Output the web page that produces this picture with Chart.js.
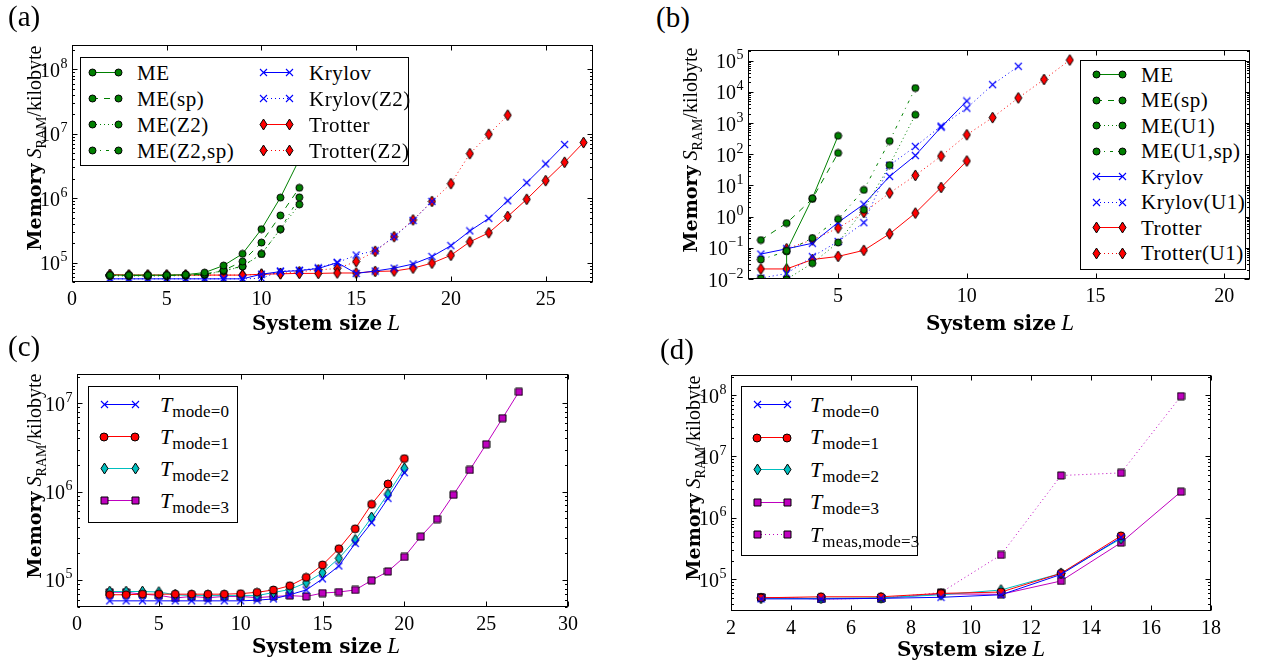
<!DOCTYPE html>
<html>
<head>
<meta charset="utf-8">
<title>Memory usage versus system size</title>
<script src="https://cdn.jsdelivr.net/npm/chart.js@4.4.1/dist/chart.umd.min.js"></script>
<style>
  html, body { margin: 0; padding: 0; background: #fff; }
  body { width: 1278px; height: 666px; position: relative; overflow: hidden;
         font-family: "Liberation Serif", "DejaVu Serif", serif; color: #000; }
  canvas.plot { position: absolute; z-index: 1; }
  .tag { position: absolute; font-size: 29px; line-height: 1; z-index: 3; }
  .ytitle { position: absolute; white-space: nowrap; font-size: 20px; line-height: 1; z-index: 3;
            transform: translate(-50%, -50%) rotate(-90deg); }
  .xtitle { position: absolute; white-space: nowrap; font-size: 20px; line-height: 1; z-index: 3;
            transform: translate(-50%, -50%); }
  .ytitle b { font-family: "DejaVu Serif", serif; font-weight: bold; font-size: 19px; }
  .xtitle b { font-family: "DejaVu Serif", serif; font-weight: bold; font-size: 20px; }
  .xtitle i { font-size: 23px; }
  sub { font-size: 0.7em; vertical-align: -0.35em; line-height: 0; }
  .legend { position: absolute; background: #fff; border: 1px solid #000; box-sizing: border-box; z-index: 2; }
  .legend canvas { position: absolute; }
  .legend .lt { position: absolute; white-space: nowrap; font-size: 21px; line-height: 1;
                transform: translateY(-50%); letter-spacing: 0.5px; }
  .legend .lt i { font-size: 22px; letter-spacing: 0; }
  .legend .lt sub { font-size: 17px; vertical-align: -0.3em; letter-spacing: 0.2px; }
</style>
</head>
<body>

<div class="tag" style="left:8px;top:2px">(a)</div>
<div class="tag" style="left:656px;top:3px">(b)</div>
<div class="tag" style="left:8px;top:332px">(c)</div>
<div class="tag" style="left:660px;top:335px">(d)</div>

<div class="ytitle" style="left:34px;top:148px"><b>Memory</b> <i>S</i><sub>RAM</sub>/kilobyte</div>
<div class="ytitle" style="left:690px;top:150px"><b>Memory</b> <i>S</i><sub>RAM</sub>/kilobyte</div>
<div class="ytitle" style="left:34px;top:476px"><b>Memory</b> <i>S</i><sub>RAM</sub>/kilobyte</div>
<div class="ytitle" style="left:693px;top:478px"><b>Memory</b> <i>S</i><sub>RAM</sub>/kilobyte</div>

<div class="xtitle" style="left:326px;top:322px"><b>System size</b> <i>L</i></div>
<div class="xtitle" style="left:1000px;top:322px"><b>System size</b> <i>L</i></div>
<div class="xtitle" style="left:326px;top:645px"><b>System size</b> <i>L</i></div>
<div class="xtitle" style="left:971px;top:648px"><b>System size</b> <i>L</i></div>

<script>
// ---------------- data: panel (a) ----------------
const xTicksA = [0, 5, 10, 15, 20, 25];
const yTicksA = [1e5, 1e6, 1e7, 1e8];
const sizeA_ME     = [2, 3, 4, 5, 6, 7, 8, 9, 10, 11, 12];
const memA_ME      = [6.4e4, 6.4e4, 6.4e4, 6.4e4, 6.5e4, 7.0e4, 9.0e4, 1.37e5, 3.3e5, 1.02e6, 4.0e6];
const memA_MEsp    = [6.3e4, 6.3e4, 6.3e4, 6.3e4, 6.4e4, 6.6e4, 7.6e4, 1.04e5, 2.05e5, 5.4e5, 1.45e6];
const memA_MEZ2    = [6.2e4, 6.2e4, 6.2e4, 6.2e4, 6.3e4, 6.5e4, 7.4e4, 8.7e4, 1.36e5, 3.3e5, 8.0e5];
const memA_MEZ2sp  = [6.3e4, 6.3e4, 6.3e4, 6.3e4, 6.4e4, 6.6e4, 7.5e4, 8.8e4, 1.36e5, 3.3e5, 1.03e6];
const sizeA_Kry    = [2, 3, 4, 5, 6, 7, 8, 9, 10, 11, 12, 13, 14, 15, 16, 17, 18, 19, 20, 21, 22, 23, 24, 25, 26];
const memA_Kry     = [5.6e4, 5.6e4, 5.6e4, 5.6e4, 5.6e4, 5.6e4, 5.6e4, 5.6e4, 6.6e4, 7.25e4, 7.5e4, 8.1e4, 1.0e5,
                      6.8e4, 7.4e4, 8.2e4, 9.5e4, 1.24e5, 1.83e5, 3.1e5, 4.85e5, 9.1e5, 1.74e6, 3.4e6, 6.8e6];
const sizeA_KryZ2  = [2, 3, 4, 5, 6, 7, 8, 9, 10, 11, 12, 13, 14, 15, 16, 17, 18, 19];
const memA_KryZ2   = [5.6e4, 5.6e4, 5.6e4, 5.6e4, 5.6e4, 5.6e4, 5.6e4, 5.6e4, 5.7e4, 7.4e4, 7.6e4, 8.3e4, 1.0e5,
                      1.31e5, 1.53e5, 2.52e5, 4.5e5, 8.9e5];
const sizeA_Tro    = [2, 3, 4, 5, 6, 7, 8, 9, 10, 11, 12, 13, 14, 15, 16, 17, 18, 19, 20, 21, 22, 23, 24, 25, 26, 27];
const memA_Tro     = [6.5e4, 6.4e4, 6.4e4, 6.4e4, 6.4e4, 6.4e4, 6.4e4, 6.4e4, 6.6e4, 6.7e4, 6.8e4, 6.8e4, 6.9e4,
                      6.9e4, 7.3e4, 7.4e4, 8.2e4, 9.8e4, 1.3e5, 2.1e5, 2.9e5, 5.2e5, 9.6e5, 1.87e6, 3.6e6, 7.3e6];
const sizeA_TroZ2  = [2, 3, 4, 5, 6, 7, 8, 9, 10, 11, 12, 13, 14, 15, 16, 17, 18, 19, 20, 21, 22, 23];
const memA_TroZ2   = [6.5e4, 6.4e4, 6.4e4, 6.4e4, 6.4e4, 6.4e4, 6.4e4, 6.4e4, 6.6e4, 6.8e4, 7.2e4, 7.7e4, 8.1e4,
                      1.04e5, 1.5e5, 2.52e5, 4.6e5, 8.9e5, 1.68e6, 4.9e6, 9.8e6, 1.94e7];

// ---------------- data: panel (b) ----------------
const xTicksB = [5, 10, 15, 20];
const yTicksB = [1e-2, 1e-1, 1e0, 1e1, 1e2, 1e3, 1e4, 1e5];
const sizeB_ME     = [3, 3, 4, 5];
const memB_ME      = [0.0098, 0.08, 3.9, 390];
const sizeB_MEsp   = [2, 3, 4, 5];
const memB_MEsp    = [0.178, 0.62, 3.7, 110];
const sizeB_MEU1   = [2, 3, 4, 5, 6, 7, 8];
const memB_MEU1    = [0.0105, 0.0098, 0.032, 0.148, 1.66, 45, 1850];
const memB_MEU1sp  = [0.042, 0.077, 0.206, 0.84, 7.2, 265, 1.33e4];
const sizeB_Kry    = [2, 3, 4, 5, 6, 7, 8, 9, 10];
const memB_Kry     = [0.063, 0.093, 0.14, 0.65, 2.5, 19.5, 91, 740, 5100];
const sizeB_KryU1  = [2, 3, 4, 5, 6, 7, 8, 9, 10, 11, 12];
const memB_KryU1   = [0.0107, 0.015, 0.052, 0.16, 0.64, 44, 178, 800, 3000, 1.7e4, 6.6e4];
const sizeB_Tro    = [2, 3, 4, 5, 6, 7, 8, 9, 10];
const memB_Tro     = [0.021, 0.021, 0.042, 0.053, 0.083, 0.28, 1.3, 8.6, 61];
const sizeB_TroU1  = [3, 4, 5, 6, 7, 8, 9, 10, 11, 12, 13, 14];
const memB_TroU1   = [0.093, 0.18, 0.43, 1.36, 5.7, 21, 87, 420, 1500, 6400, 2.5e4, 1.05e5];

// ---------------- data: panel (c) ----------------
const xTicksC = [0, 5, 10, 15, 20, 25, 30];
const yTicksC = [1e5, 1e6, 1e7];
const sizeC_012 = [2, 3, 4, 5, 6, 7, 8, 9, 10, 11, 12, 13, 14, 15, 16, 17, 18, 19, 20];
const memC_T0 = [5.8e4, 5.8e4, 5.8e4, 5.8e4, 5.8e4, 5.8e4, 5.8e4, 5.8e4, 5.8e4, 5.9e4, 6.1e4, 6.8e4, 7.7e4,
                 1.03e5, 1.44e5, 2.6e5, 4.46e5, 8.4e5, 1.64e6];
const memC_T1 = [6.8e4, 6.8e4, 6.9e4, 6.9e4, 6.9e4, 6.9e4, 6.9e4, 6.9e4, 7.0e4, 7.25e4, 7.7e4, 8.6e4, 1.07e5,
                 1.48e5, 2.26e5, 3.8e5, 7.2e5, 1.22e6, 2.37e6];
const memC_T2 = [7.4e4, 7.4e4, 7.4e4, 7.3e4, 6.8e4, 6.65e4, 6.65e4, 6.65e4, 6.65e4, 6.65e4, 7.2e4, 7.8e4, 9.3e4,
                 1.21e5, 1.76e5, 2.84e5, 5.1e5, 9.4e5, 1.84e6];
const sizeC_3 = [2, 3, 4, 5, 6, 7, 8, 9, 10, 11, 12, 13, 14, 15, 16, 17, 18, 19, 20, 21, 22, 23, 24, 25, 26, 27];
const memC_T3 = [7.25e4, 7.25e4, 6.9e4, 6.7e4, 6.25e4, 6.5e4, 6.3e4, 6.5e4, 6.5e4, 6.3e4, 6.5e4, 6.65e4, 6.5e4,
                 7.1e4, 7.3e4, 7.7e4, 9.9e4, 1.25e5, 1.82e5, 3.1e5, 4.9e5, 9.2e5, 1.76e6, 3.44e6, 6.8e6, 1.35e7];

// ---------------- data: panel (d) ----------------
const xTicksD = [2, 4, 6, 8, 10, 12, 14, 16, 18];
const yTicksD = [1e5, 1e6, 1e7, 1e8];
const sizeD_012 = [3, 5, 7, 9, 11, 13, 15];
const memD_T0 = [4.8e4, 4.8e4, 4.9e4, 5.1e4, 5.6e4, 1.2e5, 4.8e5];
const memD_T1 = [5.0e4, 5.2e4, 5.2e4, 5.9e4, 6.2e4, 1.25e5, 5.1e5];
const memD_T2 = [4.9e4, 4.9e4, 5.0e4, 5.6e4, 6.7e4, 1.25e5, 4.6e5];
const sizeD_3 = [3, 5, 7, 9, 11, 13, 15, 17];
const memD_T3    = [5.1e4, 4.8e4, 4.9e4, 5.8e4, 5.7e4, 9.4e4, 3.95e5, 2.67e6];
const memD_Tmeas = [5.1e4, 4.8e4, 4.9e4, 6.1e4, 2.5e5, 4.9e6, 5.4e6, 9.6e7];

// ---------------- styles ----------------
const COL = { g: '#008000', b: '#0000ff', r: '#ff0000', c: '#00bfbf', m: '#bf00bf' };
const DASH = { solid: [], dashed: [6, 6], dotted: [1, 3], dashdot: [3, 5, 1, 5] };

// small marker sprites (black edge, coloured face)
function marker(kind, color, w, h) {
  h = h || w;
  const c = document.createElement('canvas');
  c.width = w + 2; c.height = h + 2;
  const g = c.getContext('2d');
  g.translate(c.width / 2, c.height / 2);
  g.lineWidth = 1;
  g.strokeStyle = '#000';
  g.fillStyle = color;
  g.beginPath();
  if (kind === 'circle') {
    g.arc(0, 0, w / 2, 0, Math.PI * 2);
  } else if (kind === 'diamond') {
    g.moveTo(0, -h / 2); g.lineTo(w / 2, 0); g.lineTo(0, h / 2); g.lineTo(-w / 2, 0); g.closePath();
  } else if (kind === 'square') {
    g.rect(-w / 2, -h / 2, w, h);
  } else if (kind === 'x') {
    g.strokeStyle = color;
    g.lineWidth = 1.1;
    g.moveTo(-w / 2, -h / 2); g.lineTo(w / 2, h / 2);
    g.moveTo(w / 2, -h / 2); g.lineTo(-w / 2, h / 2);
    g.stroke();
    return c;
  }
  g.fill();
  g.stroke();
  return c;
}

const MK = {
  gCircle: marker('circle', COL.g, 7),
  bX: marker('x', COL.b, 7),
  rDiamond: marker('diamond', COL.r, 7, 11),
  rCircle: marker('circle', COL.r, 8),
  cDiamond: marker('diamond', COL.c, 7, 11),
  mSquare: marker('square', COL.m, 7)
};

function series(label, xs, ys, color, dash, mk) {
  return { label, xs, ys, color, dash, mk };
}

const seriesA = [
  series('ME', sizeA_ME, memA_ME, COL.g, 'solid', MK.gCircle),
  series('ME(sp)', sizeA_ME, memA_MEsp, COL.g, 'dashed', MK.gCircle),
  series('ME(Z2)', sizeA_ME, memA_MEZ2, COL.g, 'dotted', MK.gCircle),
  series('ME(Z2,sp)', sizeA_ME, memA_MEZ2sp, COL.g, 'dashdot', MK.gCircle),
  series('Krylov', sizeA_Kry, memA_Kry, COL.b, 'solid', MK.bX),
  series('Krylov(Z2)', sizeA_KryZ2, memA_KryZ2, COL.b, 'dotted', MK.bX),
  series('Trotter', sizeA_Tro, memA_Tro, COL.r, 'solid', MK.rDiamond),
  series('Trotter(Z2)', sizeA_TroZ2, memA_TroZ2, COL.r, 'dotted', MK.rDiamond)
];
const seriesB = [
  series('ME', sizeB_ME, memB_ME, COL.g, 'solid', MK.gCircle),
  series('ME(sp)', sizeB_MEsp, memB_MEsp, COL.g, 'dashed', MK.gCircle),
  series('ME(U1)', sizeB_MEU1, memB_MEU1, COL.g, 'dotted', MK.gCircle),
  series('ME(U1,sp)', sizeB_MEU1, memB_MEU1sp, COL.g, 'dashdot', MK.gCircle),
  series('Krylov', sizeB_Kry, memB_Kry, COL.b, 'solid', MK.bX),
  series('Krylov(U1)', sizeB_KryU1, memB_KryU1, COL.b, 'dotted', MK.bX),
  series('Trotter', sizeB_Tro, memB_Tro, COL.r, 'solid', MK.rDiamond),
  series('Trotter(U1)', sizeB_TroU1, memB_TroU1, COL.r, 'dotted', MK.rDiamond)
];
const seriesC = [
  series('<i>T</i><sub>mode=0</sub>', sizeC_012, memC_T0, COL.b, 'solid', MK.bX),
  series('<i>T</i><sub>mode=1</sub>', sizeC_012, memC_T1, COL.r, 'solid', MK.rCircle),
  series('<i>T</i><sub>mode=2</sub>', sizeC_012, memC_T2, COL.c, 'solid', MK.cDiamond),
  series('<i>T</i><sub>mode=3</sub>', sizeC_3, memC_T3, COL.m, 'solid', MK.mSquare)
];
const seriesD = [
  series('<i>T</i><sub>mode=0</sub>', sizeD_012, memD_T0, COL.b, 'solid', MK.bX),
  series('<i>T</i><sub>mode=1</sub>', sizeD_012, memD_T1, COL.r, 'solid', MK.rCircle),
  series('<i>T</i><sub>mode=2</sub>', sizeD_012, memD_T2, COL.c, 'solid', MK.cDiamond),
  series('<i>T</i><sub>mode=3</sub>', sizeD_3, memD_T3, COL.m, 'solid', MK.mSquare),
  series('<i>T</i><sub>meas,mode=3</sub>', sizeD_3, memD_Tmeas, COL.m, 'dotted', MK.mSquare)
];

// ---------------- axes frame, inward ticks, power-of-ten labels ----------------
const frameTicks = {
  id: 'frameTicks',
  afterDatasetsDraw(chart, args, opts) {
    const { ctx, chartArea: a, scales: { x, y } } = chart;
    const L = Math.round(a.left) + 0.5, R = Math.round(a.right) - 0.5;
    const T = Math.round(a.top) + 0.5, B = Math.round(a.bottom) - 0.5;
    ctx.save();
    ctx.strokeStyle = '#000';
    ctx.lineWidth = 1;
    ctx.setLineDash([]);
    ctx.beginPath();
    for (const v of opts.xTicks) {
      const p = Math.round(x.getPixelForValue(v)) + 0.5;
      if (p < L - 1 || p > R + 1) continue;
      ctx.moveTo(p, B); ctx.lineTo(p, B - 5);
      ctx.moveTo(p, T); ctx.lineTo(p, T + 5);
    }
    const lo = Math.floor(Math.log10(y.min)), hi = Math.ceil(Math.log10(y.max));
    for (let e = lo; e <= hi; e++) {
      for (let k = 1; k < 10; k++) {
        const v = k * Math.pow(10, e);
        if (v < y.min * 0.999 || v > y.max) continue;
        const len = k === 1 ? 5 : 2.5;
        const p = Math.round(y.getPixelForValue(v)) + 0.5;
        ctx.moveTo(L, p); ctx.lineTo(L + len, p);
        ctx.moveTo(R, p); ctx.lineTo(R - len, p);
      }
    }
    ctx.stroke();
    ctx.strokeRect(L, T, R - L, B - T);

    // y tick labels: "10" with a raised exponent
    ctx.fillStyle = '#000';
    for (const v of opts.yTicks) {
      const p = y.getPixelForValue(v);
      const e = String(Math.round(Math.log10(v))).replace('-', '\u2212');
      ctx.font = '20px "Liberation Serif"';
      const wBase = ctx.measureText('10').width;
      ctx.font = '14px "Liberation Serif"';
      const wExp = ctx.measureText(e).width;
      const x0 = a.left - 5 - wBase - wExp;
      ctx.textBaseline = 'alphabetic';
      ctx.textAlign = 'left';
      ctx.font = '20px "Liberation Serif"';
      ctx.fillText('10', x0, p + 7.5);
      ctx.font = '14px "Liberation Serif"';
      ctx.fillText(e, x0 + wBase + 0.5, p - 1.5);
    }
    ctx.restore();
  }
};

const TICK_FONT = { family: 'Liberation Serif', size: 20 };

function makePanel(rect, xRange, yRange, xTicks, yTicks, list) {
  const ML = 72, MT = 16, MR = 22, MB = 42;
  const cv = document.createElement('canvas');
  cv.className = 'plot';
  const W = rect.r - rect.l + ML + MR, H = rect.b - rect.t + MT + MB;
  cv.width = W; cv.height = H;
  cv.style.left = (rect.l - ML) + 'px';
  cv.style.top = (rect.t - MT) + 'px';
  document.body.appendChild(cv);
  new Chart(cv, {
    type: 'line',
    data: {
      datasets: list.map(s => ({
        label: s.label,
        data: s.xs.map((v, i) => ({ x: v, y: s.ys[i] })),
        borderColor: s.color,
        backgroundColor: s.color,
        borderWidth: 1,
        borderDash: DASH[s.dash],
        pointStyle: s.mk,
        pointRadius: 4,
        pointHoverRadius: 4,
        fill: false,
        tension: 0,
        clip: 0
      }))
    },
    options: {
      responsive: false,
      animation: false,
      devicePixelRatio: 1,
      events: [],
      layout: { padding: { left: 0, top: MT, right: MR, bottom: 0 } },
      plugins: { legend: { display: false }, tooltip: { enabled: false }, frameTicks: { xTicks, yTicks } },
      scales: {
        x: {
          type: 'linear', min: xRange[0], max: xRange[1],
          afterBuildTicks: s => { s.ticks = xTicks.map(v => ({ value: v })); },
          afterFit: s => { s.height = MB; },
          grid: { display: false, drawTicks: false, tickLength: 0 },
          border: { display: false },
          ticks: { color: '#000', font: TICK_FONT, padding: 6, maxRotation: 0, autoSkip: false,
                   callback: v => String(v) }
        },
        y: {
          type: 'logarithmic', min: yRange[0], max: yRange[1],
          afterBuildTicks: s => { s.ticks = yTicks.map(v => ({ value: v, major: true })); },
          afterFit: s => { s.width = ML; },
          grid: { display: false, drawTicks: false, tickLength: 0 },
          border: { display: false },
          ticks: { display: false }
        }
      }
    },
    plugins: [frameTicks]
  });
}

// legend box: line sample with a marker at each end, then the label
function makeLegend(box, entries) {
  const el = document.createElement('div');
  el.className = 'legend';
  el.style.left = box[0] + 'px';
  el.style.top = box[1] + 'px';
  el.style.width = (box[2] - box[0]) + 'px';
  el.style.height = (box[3] - box[1]) + 'px';
  document.body.appendChild(el);
  const ox = box[0] + 1, oy = box[1] + 1;
  for (const e of entries) {
    const s = e.s;
    const len = e.m2 - e.m1;
    const c = document.createElement('canvas');
    c.width = len + 16; c.height = 21;
    c.style.left = (e.m1 - 8 - ox) + 'px';
    c.style.top = (e.y - 10.5 - oy) + 'px';
    const g = c.getContext('2d');
    g.strokeStyle = s.color; g.lineWidth = 1; g.setLineDash(DASH[s.dash]);
    g.beginPath(); g.moveTo(8, 10.5); g.lineTo(8 + len, 10.5); g.stroke();
    g.setLineDash([]);
    for (const px of [8, 8 + len]) g.drawImage(s.mk, Math.round(px - s.mk.width / 2), Math.round(10.5 - s.mk.height / 2));
    el.appendChild(c);
    const t = document.createElement('div');
    t.className = 'lt';
    t.innerHTML = s.label;
    t.style.left = (e.tx - ox) + 'px';
    t.style.top = (e.y - oy) + 'px';
    el.appendChild(t);
  }
}

// ---------------- panels ----------------
makePanel({ l: 72, t: 45, r: 593, b: 282 }, [0, 27.5], [5.0e4, 2.38e8], xTicksA, yTicksA, seriesA);
makePanel({ l: 748, t: 50, r: 1250, b: 279 }, [1.5, 21], [1e-2, 2.2e5], xTicksB, yTicksB, seriesB);
makePanel({ l: 77, t: 374, r: 568, b: 607 }, [0, 30], [4.94e4, 2.15e7], xTicksC, yTicksC, seriesC);
makePanel({ l: 731, t: 375, r: 1211, b: 611 }, [2, 18], [3.05e4, 2.12e8], xTicksD, yTicksD, seriesD);

const rowsA = [72.5, 98.5, 124.5, 150.5];
makeLegend([80, 57, 409, 166], seriesA.map((s, i) => {
  const col = i < 4 ? { m1: 92, m2: 118, tx: 137 } : { m1: 263, m2: 289, tx: 309 };
  return { s, y: rowsA[i % 4], ...col };
}));
const rowsB = [74.5, 100, 125.5, 151, 176.5, 202, 227.5, 253];
makeLegend([1080, 60, 1246, 270], seriesB.map((s, i) => ({ s, y: rowsB[i], m1: 1096, m2: 1122, tx: 1141 })));
const rowsC = [404.5, 436.5, 468.5, 500.5];
makeLegend([88, 386, 238, 523], seriesC.map((s, i) => ({ s, y: rowsC[i], m1: 104, m2: 135, tx: 160 })));
const rowsD = [404.5, 437, 469.5, 502, 534.5];
makeLegend([741, 386, 918, 556], seriesD.map((s, i) => ({ s, y: rowsD[i], m1: 757, m2: 787, tx: 810 })));
</script>
</body>
</html>
